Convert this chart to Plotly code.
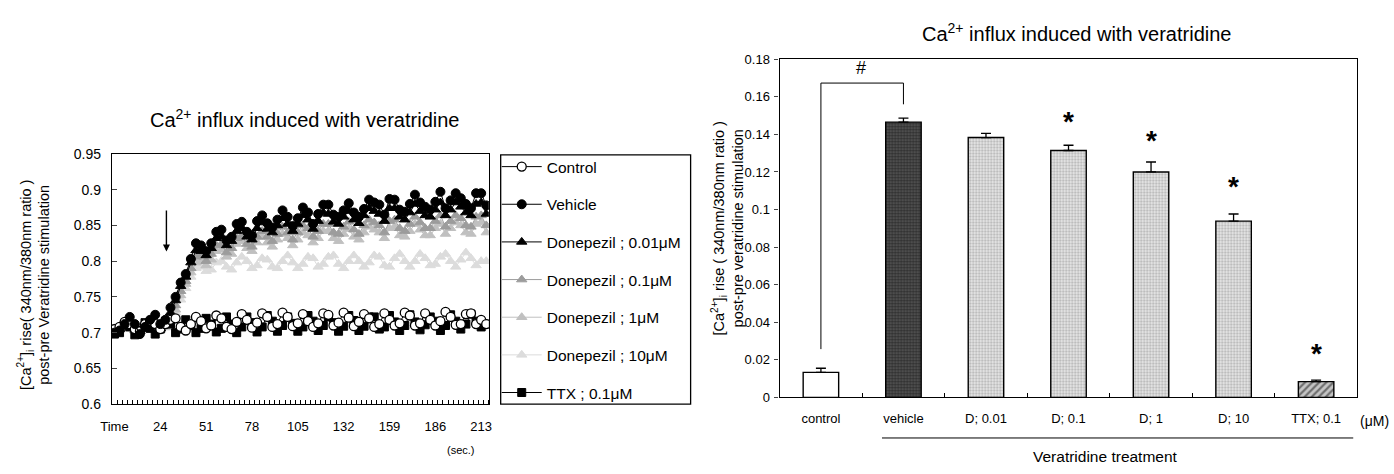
import plotly.graph_objects as go

# ---------------- data: left time course ----------------
time_labels = ["Time", "24", "51", "78", "105", "132", "159", "186", "213"]
label_index = [0, 9, 18, 27, 36, 45, 54, 63, 72]

control = [0.705, 0.708, 0.715, 0.712, 0.705, 0.702, 0.712, 0.716, 0.712, 0.705,
           0.712, 0.718, 0.720, 0.708, 0.703, 0.712, 0.722, 0.716, 0.706, 0.710,
           0.724, 0.720, 0.708, 0.705, 0.715, 0.726, 0.718, 0.707, 0.714, 0.727,
           0.722, 0.708, 0.712, 0.728, 0.722, 0.709, 0.713, 0.726, 0.716, 0.708,
           0.713, 0.727, 0.725, 0.710, 0.714, 0.728, 0.721, 0.709, 0.715, 0.726,
           0.720, 0.708, 0.712, 0.727, 0.718, 0.710, 0.713, 0.728, 0.724, 0.710,
           0.713, 0.727, 0.718, 0.710, 0.716, 0.729, 0.722, 0.711, 0.712, 0.726,
           0.727, 0.712, 0.718, 0.712]

vehicle = [0.700, 0.703, 0.712, 0.722, 0.712, 0.698, 0.708, 0.718, 0.725, 0.712,
           0.718, 0.735, 0.750, 0.770, 0.782, 0.803, 0.825, 0.822, 0.814, 0.825,
           0.841, 0.844, 0.829, 0.834, 0.852, 0.855, 0.841, 0.836, 0.856, 0.864,
           0.853, 0.847, 0.858, 0.871, 0.862, 0.849, 0.860, 0.875, 0.868, 0.852,
           0.866, 0.879, 0.879, 0.865, 0.862, 0.871, 0.881, 0.868, 0.862, 0.873,
           0.886, 0.882, 0.879, 0.865, 0.887, 0.886, 0.872, 0.869, 0.880, 0.893,
           0.882, 0.876, 0.872, 0.883, 0.897, 0.874, 0.885, 0.895, 0.888, 0.880,
           0.874, 0.895, 0.895, 0.878]

donepezil_001 = [0.702, 0.705, 0.708, 0.712, 0.706, 0.702, 0.708, 0.714, 0.712, 0.706,
                 0.712, 0.728, 0.745, 0.765, 0.778, 0.798, 0.815, 0.814, 0.808, 0.818,
                 0.832, 0.834, 0.822, 0.828, 0.842, 0.846, 0.834, 0.830, 0.846, 0.854,
                 0.845, 0.840, 0.850, 0.860, 0.852, 0.842, 0.852, 0.864, 0.858, 0.845,
                 0.856, 0.868, 0.866, 0.855, 0.852, 0.862, 0.870, 0.858, 0.853, 0.864,
                 0.874, 0.870, 0.866, 0.856, 0.874, 0.874, 0.862, 0.858, 0.868, 0.880,
                 0.870, 0.864, 0.862, 0.872, 0.882, 0.864, 0.872, 0.882, 0.876, 0.868,
                 0.864, 0.880, 0.882, 0.866]

donepezil_01 = [0.704, 0.706, 0.710, 0.708, 0.703, 0.705, 0.710, 0.712, 0.707, 0.705,
                0.710, 0.720, 0.738, 0.758, 0.772, 0.790, 0.806, 0.808, 0.800, 0.810,
                0.822, 0.824, 0.812, 0.818, 0.832, 0.836, 0.824, 0.820, 0.834, 0.842,
                0.834, 0.828, 0.838, 0.848, 0.840, 0.830, 0.840, 0.850, 0.846, 0.834,
                0.842, 0.852, 0.852, 0.840, 0.838, 0.848, 0.855, 0.844, 0.838, 0.850,
                0.858, 0.854, 0.850, 0.840, 0.856, 0.858, 0.846, 0.842, 0.852, 0.862,
                0.854, 0.846, 0.846, 0.856, 0.864, 0.848, 0.856, 0.864, 0.860, 0.850,
                0.848, 0.862, 0.864, 0.850]

donepezil_1 = [0.706, 0.704, 0.708, 0.710, 0.705, 0.703, 0.708, 0.711, 0.708, 0.704,
               0.708, 0.716, 0.732, 0.752, 0.768, 0.784, 0.798, 0.800, 0.794, 0.802,
               0.814, 0.816, 0.806, 0.810, 0.824, 0.828, 0.818, 0.814, 0.826, 0.834,
               0.826, 0.820, 0.830, 0.838, 0.832, 0.822, 0.830, 0.840, 0.836, 0.826,
               0.832, 0.842, 0.842, 0.832, 0.828, 0.838, 0.845, 0.834, 0.830, 0.840,
               0.848, 0.844, 0.840, 0.832, 0.846, 0.848, 0.836, 0.834, 0.842, 0.852,
               0.844, 0.836, 0.836, 0.846, 0.852, 0.838, 0.846, 0.854, 0.850, 0.840,
               0.838, 0.852, 0.854, 0.840]

donepezil_10 = [0.706, 0.707, 0.708, 0.706, 0.703, 0.706, 0.709, 0.708, 0.705, 0.704,
                0.707, 0.714, 0.728, 0.746, 0.762, 0.778, 0.790, 0.792, 0.786, 0.788,
                0.798, 0.800, 0.792, 0.788, 0.798, 0.806, 0.800, 0.790, 0.794, 0.804,
                0.802, 0.792, 0.790, 0.800, 0.808, 0.798, 0.790, 0.796, 0.806, 0.804,
                0.792, 0.796, 0.806, 0.808, 0.796, 0.790, 0.800, 0.808, 0.800, 0.792,
                0.798, 0.808, 0.806, 0.794, 0.792, 0.804, 0.810, 0.800, 0.792, 0.800,
                0.810, 0.804, 0.794, 0.796, 0.806, 0.810, 0.800, 0.792, 0.802, 0.812,
                0.804, 0.794, 0.800, 0.800]

ttx = [0.698, 0.700, 0.712, 0.708, 0.697, 0.703, 0.714, 0.706, 0.698, 0.705,
       0.716, 0.712, 0.700, 0.705, 0.718, 0.710, 0.700, 0.706, 0.720, 0.712,
       0.701, 0.706, 0.722, 0.712, 0.700, 0.708, 0.722, 0.714, 0.701, 0.708,
       0.724, 0.716, 0.702, 0.710, 0.722, 0.713, 0.702, 0.708, 0.724, 0.716,
       0.703, 0.710, 0.722, 0.714, 0.702, 0.709, 0.724, 0.717, 0.703, 0.709,
       0.722, 0.722, 0.705, 0.708, 0.724, 0.715, 0.703, 0.710, 0.725, 0.715,
       0.704, 0.711, 0.722, 0.716, 0.703, 0.710, 0.725, 0.716, 0.705, 0.712,
       0.726, 0.716, 0.708, 0.712]

# ---------------- data: right bar chart ----------------
bar_labels = ["control", "vehicle", "D; 0.01", "D; 0.1", "D; 1", "D; 10", "TTX; 0.1"]
bar_values = [0.0133, 0.1465, 0.1383, 0.1314, 0.1200, 0.0938, 0.0084]
bar_errors = [0.0022, 0.0021, 0.0022, 0.0028, 0.0053, 0.0038, 0.0008]
star_positions = [3, 4, 5, 6]
star_heights = [0.147, 0.137, 0.112, 0.0235]

W, H = 1394, 474
FONT = "Liberation Sans, Arial, sans-serif"
NARROW = "Liberation Sans Narrow, Liberation Sans, Arial, sans-serif"


def px_x(p):
    return p / W


def px_y(p):
    return 1 - p / H


fig = go.Figure()
n = len(vehicle)
xs = list(range(n))

# drawing order (back to front); legend order via legendrank
order = [
    ("Donepezil ; 10μM", donepezil_10, "#dcdcdc", "triangle-up", 6),
    ("Donepezil ; 1μM", donepezil_1, "#c0c0c0", "triangle-up", 5),
    ("Donepezil ; 0.1μM", donepezil_01, "#9c9c9c", "triangle-up", 4),
    ("Donepezil ; 0.01μM", donepezil_001, "#000000", "triangle-up", 3),
    ("TTX ; 0.1μM", ttx, "#000000", "square", 7),
    ("Control", control, "#000000", "circle-open", 1),
    ("Vehicle", vehicle, "#000000", "circle", 2),
]

for name, ys, lc, sym, rank in order:
    if sym == "circle-open":
        marker = dict(symbol="circle", size=9, color="#ffffff", line=dict(color="#000000", width=1.3))
    elif sym == "square":
        marker = dict(symbol="square", size=8, color=lc, line=dict(color=lc, width=1))
    else:
        marker = dict(symbol=sym, size=9, color=lc, line=dict(color=lc, width=1))
    fig.add_trace(go.Scatter(
        x=xs, y=ys, mode="lines+markers", name=name,
        line=dict(color=lc, width=1),
        marker=marker,
        legendrank=rank, legendgroup=name,
        xaxis="x", yaxis="y",
    ))

# bars
bx = list(range(len(bar_values)))
BW = 0.43
err_style = dict(type="data", symmetric=False, color="#000000", thickness=1.3, width=5)
fig.add_trace(go.Bar(
    x=bx[0:1], y=bar_values[0:1], width=BW,
    marker=dict(color="#ffffff", line=dict(color="#000000", width=1.4)),
    error_y=dict(array=bar_errors[0:1], arrayminus=[0], **err_style),
    xaxis="x2", yaxis="y2", showlegend=False,
))
fig.add_trace(go.Bar(
    x=bx[1:2], y=bar_values[1:2], width=BW,
    marker=dict(color="#3a3a3a", line=dict(color="#000000", width=1.4),
                pattern=dict(shape=".", fgcolor="#000000", bgcolor="#5a5a5a", size=3, solidity=0.55)),
    error_y=dict(array=bar_errors[1:2], arrayminus=[0], **err_style),
    xaxis="x2", yaxis="y2", showlegend=False,
))
fig.add_trace(go.Bar(
    x=bx[2:6], y=bar_values[2:6], width=BW,
    marker=dict(color="#cfcfcf", line=dict(color="#000000", width=1.4),
                pattern=dict(shape=".", fgcolor="#6e6e6e", bgcolor="#eeeeee", size=3, solidity=0.45)),
    error_y=dict(array=bar_errors[2:6], arrayminus=[0, 0, 0, 0], **err_style),
    xaxis="x2", yaxis="y2", showlegend=False,
))
fig.add_trace(go.Bar(
    x=bx[6:7], y=bar_values[6:7], width=BW,
    marker=dict(color="#888888", line=dict(color="#000000", width=1.4),
                pattern=dict(shape="/", fgcolor="#1a1a1a", bgcolor="#c4c4c4", size=5, solidity=0.45)),
    error_y=dict(array=bar_errors[6:7], arrayminus=[0], **err_style),
    xaxis="x2", yaxis="y2", showlegend=False,
))

# asterisks
for xp, yp in zip(star_positions, star_heights):
    fig.add_annotation(x=xp, y=yp, xref="x2", yref="y2", text="<b>*</b>", showarrow=False,
                       xanchor="center", yanchor="middle",
                       font=dict(family=FONT, size=28, color="#000"))

# significance bracket
fig.add_shape(type="path", xref="x2", yref="y2",
              path="M 0,0.0257 L 0,0.1673 L 1,0.1673 L 1,0.156",
              line=dict(color="#000", width=1))
fig.add_annotation(x=0.49, y=0.1755, xref="x2", yref="y2", text="#", showarrow=False,
                   xanchor="center", yanchor="middle",
                   font=dict(family=FONT, size=18, color="#000"))

TITLE = "Ca<sup>2+</sup> influx induced with veratridine"
fig.add_annotation(x=px_x(296), y=px_y(114), xref="paper", yref="paper", text=TITLE,
                   showarrow=False, xanchor="center", yanchor="middle",
                   font=dict(family=FONT, size=20, color="#000"))
fig.add_annotation(x=px_x(1076), y=px_y(25), xref="paper", yref="paper", text=TITLE,
                   showarrow=False, xanchor="center", yanchor="middle",
                   font=dict(family=FONT, size=20, color="#000"))

# y-axis titles
fig.add_annotation(x=px_x(22), y=px_y(287), xref="paper", yref="paper", textangle=-90,
                   text="[Ca<sup>2+</sup>]<sub>i</sub> rise( 340nm/380nm ratio )<br>post-pre Veratridine stimulation",
                   showarrow=False, xanchor="center", yanchor="middle",
                   font=dict(family=FONT, size=14.5, color="#000"))
fig.add_annotation(x=px_x(723), y=px_y(228), xref="paper", yref="paper", textangle=-90,
                   text="[Ca<sup>2+</sup>]<sub>i</sub> rise ( 340nm/380nm ratio )<br>post-pre veratridine stimulation",
                   showarrow=False, xanchor="center", yanchor="middle",
                   font=dict(family=FONT, size=14.5, color="#000"))

# arrow in time course
fig.add_annotation(x=10.2, y=0.8135, ax=10.2, ay=0.873, xref="x", yref="y", axref="x", ayref="y",
                   showarrow=True, arrowhead=2, arrowsize=1, arrowwidth=1.4, arrowcolor="#000", text="")

# (sec.)
fig.add_annotation(x=px_x(454), y=px_y(457), xref="paper", yref="paper", text="(sec.)",
                   showarrow=False, xanchor="center", yanchor="middle",
                   font=dict(family=FONT, size=11, color="#000"))

# (μM)
fig.add_annotation(x=px_x(1361), y=px_y(427), xref="paper", yref="paper", text="(μM)",
                   showarrow=False, xanchor="left", yanchor="middle",
                   font=dict(family=NARROW, size=14, color="#000"))

# veratridine treatment line + label
fig.add_shape(type="line", xref="x2", yref="paper", x0=0.74, x1=6.45,
              y0=px_y(445), y1=px_y(445), line=dict(color="#000", width=1))
fig.add_annotation(x=px_x(1105), y=px_y(464), xref="paper", yref="paper", text="Veratridine treatment",
                   showarrow=False, xanchor="center", yanchor="middle",
                   font=dict(family=NARROW, size=15.5, color="#000"))

# legend frame
fig.add_shape(type="rect", xref="paper", yref="paper",
              x0=px_x(494), x1=px_x(686), y0=px_y(410), y1=px_y(152),
              line=dict(color="#000", width=1.3), fillcolor="rgba(0,0,0,0)")

axis_common = dict(showline=True, linecolor="#000", linewidth=1.3, mirror=True,
                   showgrid=False, zeroline=False)

fig.update_layout(
    width=W, height=H,
    margin=dict(l=0, r=0, t=0, b=0),
    paper_bgcolor="#ffffff", plot_bgcolor="#ffffff",
    font=dict(family=FONT, size=13, color="#000"),
    barmode="overlay",
    showlegend=True,
    legend=dict(x=px_x(490), y=px_y(147), xanchor="left", yanchor="top",
                borderwidth=0, bgcolor="rgba(0,0,0,0)",
                font=dict(family=FONT, size=15.5, color="#000"),
                traceorder="grouped", tracegroupgap=14.5, itemwidth=40),
    xaxis=dict(domain=[px_x(101), px_x(482)], range=[-0.5, n - 0.5],
               tickmode="array", tickvals=label_index, ticktext=time_labels,
               ticks="", tickfont=dict(family=FONT, size=13), ticklabelstandoff=10,
               minor=dict(ticks="inside", tickmode="linear", tick0=-0.5, dtick=1,
                          ticklen=4, tickcolor="#000", tickwidth=1),
               anchor="y", **axis_common),
    yaxis=dict(domain=[px_y(410), px_y(151)], range=[0.6, 0.95], dtick=0.05, tick0=0.6,
               ticks="inside", ticklen=5, tickfont=dict(family=FONT, size=14),
               ticklabelstandoff=7,
               anchor="x", **axis_common),
    xaxis2=dict(domain=[px_x(776), px_x(1360)], range=[-0.5, 6.5],
                tickmode="array", tickvals=bx, ticktext=bar_labels,
                ticks="", tickfont=dict(family=NARROW, size=13), ticklabelstandoff=9,
                minor=dict(ticks="inside", tickmode="array", tickvals=[0.5, 1.5, 2.5, 3.5, 4.5, 5.5],
                           ticklen=4, tickcolor="#000", tickwidth=1),
                anchor="y2", **axis_common),
    yaxis2=dict(domain=[px_y(403), px_y(53)], range=[0, 0.18], dtick=0.02, tick0=0,
                ticks="outside", ticklen=4, tickfont=dict(family=FONT, size=13),
                ticklabelstandoff=2,
                anchor="x2", **axis_common),
)

fig.write_html("out.html")
